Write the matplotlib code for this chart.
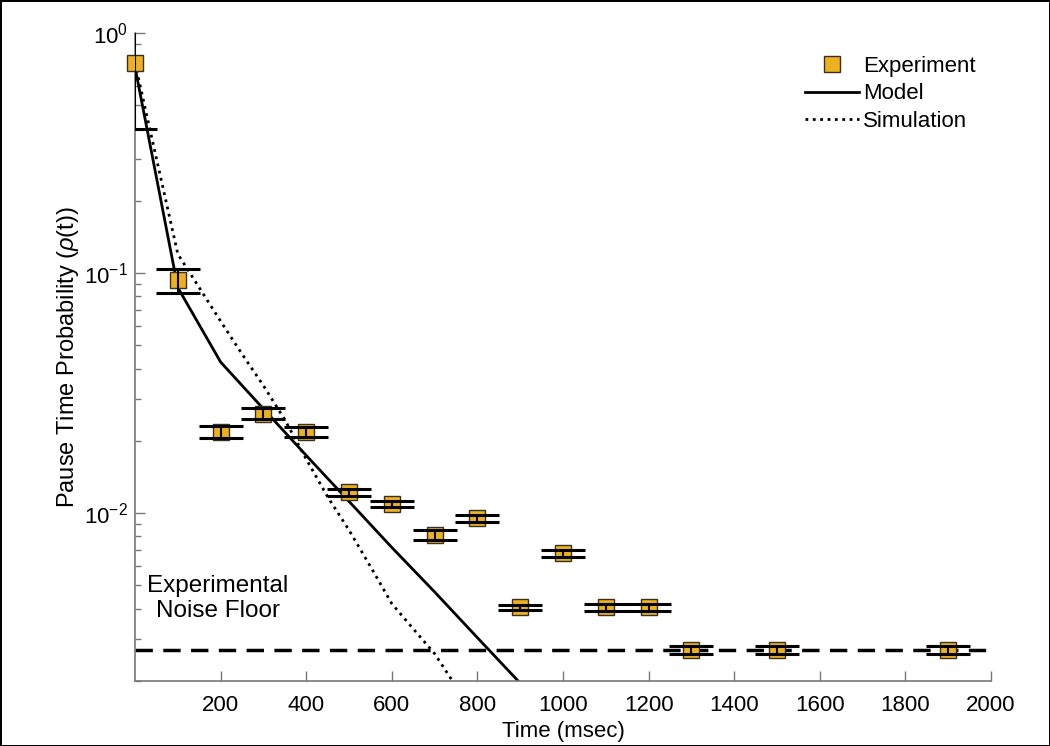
import numpy as np
import matplotlib.pyplot as plt

plt.rcParams['font.family'] = ['Liberation Sans', 'DejaVu Sans']
plt.rcParams['mathtext.fontset'] = 'custom'
plt.rcParams['mathtext.rm'] = 'Liberation Sans'
plt.rcParams['mathtext.it'] = 'Liberation Sans:italic'

# Experiment
exp_t = [0, 100, 200, 300, 400, 500, 600, 700, 800, 900, 1000, 1100, 1200, 1300, 1500, 1900]
exp_p = [0.75, 0.0935, 0.0218, 0.026, 0.0218, 0.0122, 0.0109, 0.0081, 0.00953, 0.00406,
         0.0068, 0.00406, 0.00406, 0.00269, 0.00269, 0.00269]
exp_err = [0.35, 0.0105, 0.0013, 0.0014, 0.001, 0.0004, 0.0003, 0.0004, 0.0003, 0.00009,
           0.0002, 0.00014, 0.00014, 0.0001, 0.0001, 0.0001]

# Model
model_t = [0, 100, 200, 300, 400, 500, 600, 700, 800, 900, 1000]
model_p = [0.72, 0.087, 0.0426, 0.0272, 0.0174, 0.0112, 0.0072, 0.0047, 0.00303, 0.00196, 0.00127]

# Simulation
sim_t = [0, 50, 100, 150, 200, 250, 300, 350, 400, 450, 500, 550, 600, 650, 700, 750]
sim_p = [0.75, 0.3, 0.12, 0.087, 0.063, 0.046, 0.034, 0.0245, 0.0168, 0.0117, 0.0085,
         0.006, 0.0042, 0.0033, 0.0026, 0.0019]

noise_floor = 0.0027

fig = plt.figure(figsize=(10.5, 7.46), dpi=100, edgecolor='black', linewidth=2)
ax = fig.add_axes([0.1286, 0.0871, 0.8152, 0.8687])

ax.plot(model_t, model_p, '-', color='black', lw=2, label='Model')
ax.plot(sim_t, sim_p, ':', color='black', lw=2, label='Simulation')
ax.axhline(noise_floor, color='black', lw=2.5, ls=(0, (5, 3)))

ax.plot(exp_t, exp_p, 's', ms=11.5, mfc='#EDB120', mec='#3a3020', mew=1,
        ls='none', label='Experiment', clip_on=False, zorder=4)
ax.errorbar(exp_t, exp_p, yerr=exp_err, fmt='none', ecolor='black', elinewidth=1.5,
            capsize=15.5, capthick=2.2, zorder=5)

ax.text(194, 0.00442, 'Experimental\nNoise Floor', fontsize=17.5, ha='center', va='center',
        linespacing=1.2)

ax.set_yscale('log')
ax.set_xlim(0, 2000)
ax.set_ylim(0.002, 1)
ax.set_xticks([200, 400, 600, 800, 1000, 1200, 1400, 1600, 1800, 2000])
ax.set_xlabel('Time (msec)', fontsize=16, labelpad=4)
ax.set_ylabel(r'Pause Time Probability ($\rho$(t))', fontsize=17, labelpad=2)

for s in ['top', 'right']:
    ax.spines[s].set_visible(False)
for s in ['left', 'bottom']:
    ax.spines[s].set_color('#777777')
    ax.spines[s].set_linewidth(1.2)
ax.tick_params(which='major', direction='in', length=7, color='#777777', labelsize=16, width=1)
ax.tick_params(which='minor', direction='in', length=4, color='#777777', width=1)
ax.tick_params(axis='x', pad=10)
ax.tick_params(axis='y', pad=5)

handles, labels = ax.get_legend_handles_labels()
order = [2, 0, 1]
ax.legend([handles[i] for i in order], [labels[i] for i in order], loc='upper left',
          bbox_to_anchor=(0.783, 0.965), frameon=False, fontsize=16, borderpad=0,
          borderaxespad=0, handlelength=2.4, handletextpad=0.2, labelspacing=0.3)

fig.savefig('out.png', dpi=100, edgecolor=fig.get_edgecolor())
